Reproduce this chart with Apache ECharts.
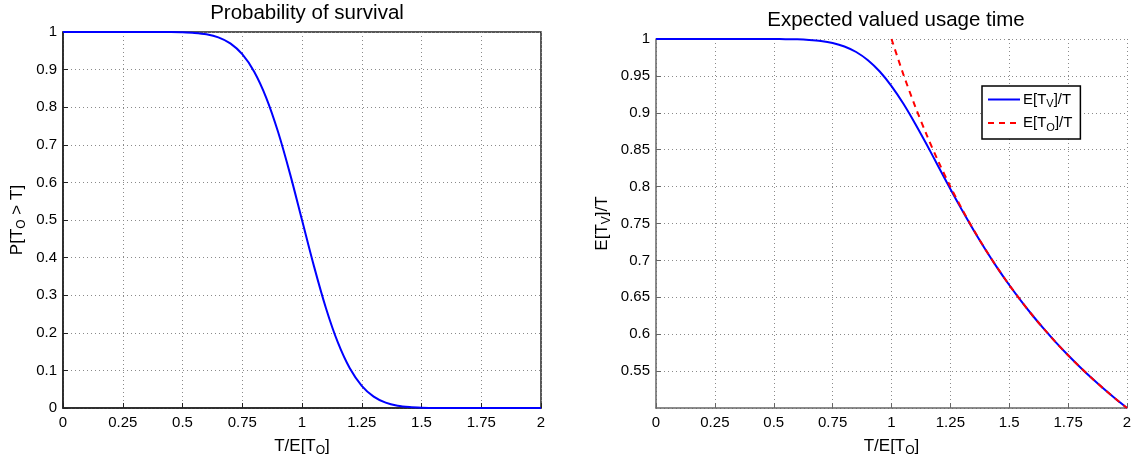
<!DOCTYPE html>
<html>
<head>
<meta charset="utf-8">
<script src="https://cdn.jsdelivr.net/npm/echarts@6/dist/echarts.min.js"></script>
<style>
html,body{margin:0;padding:0;background:#fff;}
#chart{width:1139px;height:455px;}
</style>
</head>
<body>
<div id="chart"></div>
<script>
// ---- data ----
const xValues = [0,0.05,0.1,0.15,0.2,0.25,0.3,0.35,0.4,0.45,0.5,0.55,0.6,0.65,0.7,0.75,0.8,0.85,0.9,0.95,
  1,1.05,1.1,1.15,1.2,1.25,1.3,1.35,1.4,1.45,1.5,1.55,1.6,1.65,1.7,1.75,1.8,1.85,1.9,1.95,2];
const survival = [1,1,1,1,1,1,1,1,0.9999,0.9997,0.9991,0.9975,0.9938,0.9856,0.9696,0.9409,0.8944,0.8257,0.734,0.6227,
  0.5,0.3773,0.266,0.1743,0.1056,0.0591,0.0304,0.0144,0.0062,0.0025,0.0009,0.0003,0.0001,0,0,0,0,0,0,0,0];
const usageV = [1,1,1,1,1,1,1,1,1,1,0.9999,0.9998,0.9995,0.9987,0.9973,0.9946,0.9899,0.9824,0.9712,0.9559,
  0.9362,0.9125,0.8855,0.8566,0.8266,0.7967,0.7678,0.7401,0.7141,0.6896,0.6667,0.6452,0.625,0.6061,0.5882,0.5714,0.5556,0.5405,0.5263,0.5128,0.5];
const xValuesO = [1,1.05,1.1,1.15,1.2,1.25,1.3,1.35,1.4,1.45,1.5,1.55,1.6,1.65,1.7,1.75,1.8,1.85,1.9,1.95,2];
const usageO = [1,0.9524,0.9091,0.8696,0.8333,0.8,0.7692,0.7407,0.7143,0.6897,0.6667,0.6452,0.625,0.6061,0.5882,0.5714,0.5556,0.5405,0.5263,0.5128,0.5];
const xTicks = [0,0.25,0.5,0.75,1,1.25,1.5,1.75,2];
const leftYTicks = [0,0.1,0.2,0.3,0.4,0.5,0.6,0.7,0.8,0.9,1];
const rightYTicks = [0.55,0.6,0.65,0.7,0.75,0.8,0.85,0.9,0.95,1];
const titles = ['Probability of survival','Expected valued usage time'];
const seriesNames = ['E[T_V]/T','E[T_O]/T'];

// ---- chart ----
const FONT = '"Liberation Sans", Arial, Helvetica, sans-serif';
const richName = {
  n: {fontSize: 17, fontFamily: FONT, color: '#000'},
  s: {fontSize: 12, fontFamily: FONT, color: '#000', padding: [10, 0, 0, 0]}
};
const richLegend = {
  n: {fontSize: 15, fontFamily: FONT, color: '#000'},
  s: {fontSize: 11, fontFamily: FONT, color: '#000', padding: [9, 0, 0, 0]}
};
function sub(base, s, rest) { return '{n|' + base + '}{s|' + s + '}{n|' + rest + '}'; }
const pairs = (xs, ys) => xs.map((x, i) => [x, ys[i]]);
const gridLine = () => ({show: true, lineStyle: {color: '#8a8a8a', type: [1, 3], width: 1}});
const labelStyle = {color: '#000', fontSize: 15, fontFamily: FONT};
const fmt = v => String(+v.toFixed(2));

const chart = echarts.init(document.getElementById('chart'), null, {renderer: 'canvas'});
chart.setOption({
  animation: false,
  backgroundColor: '#fff',
  title: [
    {text: titles[0], left: 302, top: -2, textAlign: 'center',
     textStyle: {fontSize: 20.5, fontWeight: 'normal', color: '#000', fontFamily: FONT}},
    {text: titles[1], left: 891, top: 5, textAlign: 'center',
     textStyle: {fontSize: 20.5, fontWeight: 'normal', color: '#000', fontFamily: FONT}}
  ],
  grid: [
    {left: 63, right: 598, top: 32, bottom: 47, outerBoundsMode: 'none', containLabel: false,
     show: true, borderColor: '#222', borderWidth: 1.5, backgroundColor: 'transparent'},
    {left: 656, right: 12, top: 39, bottom: 47, outerBoundsMode: 'none', containLabel: false}
  ],
  legend: {
    data: seriesNames,
    orient: 'vertical', left: 982, top: 86,
    itemWidth: 32, itemHeight: 12, itemGap: 6,
    padding: [6, 8, 6, 5],
    borderColor: '#000', borderWidth: 1.5, backgroundColor: '#fff',
    itemStyle: {opacity: 0},
    formatter: (name) => name === seriesNames[0] ? sub('E[T', 'V', ']/T') : sub('E[T', 'O', ']/T'),
    textStyle: {rich: richLegend, padding: [0, 0, 0, -2]}
  },
  xAxis: [0, 1].map(g => ({
    type: 'value', gridIndex: g, min: 0, max: 2, interval: 0.25,
    name: sub('T/E[T', 'O', ']'), nameLocation: 'middle', nameGap: 27,
    nameTextStyle: {rich: richName},
    axisLine: {show: true, onZero: false, lineStyle: {color: g === 0 ? '#222' : '#666', width: 1.5}},
    axisTick: {show: true, inside: true, length: 5, lineStyle: {color: g === 0 ? '#222' : '#666'}},
    axisLabel: Object.assign({margin: 7, formatter: fmt}, labelStyle),
    splitLine: gridLine()
  })),
  yAxis: [
    {type: 'value', gridIndex: 0, min: 0, max: 1, interval: 0.1,
     name: sub('P[T', 'O', ' > T]'), nameLocation: 'middle', nameGap: 35, nameRotate: 90,
     nameTextStyle: {rich: richName},
     axisLine: {show: true, lineStyle: {color: '#222', width: 1.5}},
     axisTick: {show: true, inside: true, length: 5, lineStyle: {color: '#222'}},
     axisLabel: Object.assign({margin: 6, formatter: fmt}, labelStyle),
     splitLine: gridLine()},
    {type: 'value', gridIndex: 1, min: 0.5, max: 1, interval: 0.05,
     name: sub('E[T', 'V', ']/T'), nameLocation: 'middle', nameGap: 43, nameRotate: 90,
     nameTextStyle: {rich: richName},
     axisLine: {show: true, lineStyle: {color: '#666', width: 1.5}},
     axisTick: {show: true, inside: true, length: 5, lineStyle: {color: '#666'}},
     axisLabel: Object.assign({margin: 6, showMinLabel: false, formatter: fmt}, labelStyle),
     splitLine: gridLine()}
  ],
  series: [
    {type: 'line', name: 'survival', xAxisIndex: 0, yAxisIndex: 0, data: pairs(xValues, survival),
     showSymbol: false, symbol: 'none', smooth: 0.3, lineStyle: {color: '#0000ff', width: 2}, itemStyle: {color: '#0000ff'}},
    {type: 'line', name: seriesNames[0], xAxisIndex: 1, yAxisIndex: 1, data: pairs(xValues, usageV),
     showSymbol: false, symbol: 'none', smooth: 0.3, lineStyle: {color: '#0000ff', width: 2}, itemStyle: {color: '#0000ff'}},
    {type: 'line', name: seriesNames[1], xAxisIndex: 1, yAxisIndex: 1, data: pairs(xValuesO, usageO),
     showSymbol: false, symbol: 'none', smooth: 0.3, lineStyle: {color: '#ff0000', width: 2, type: [6, 5]}, itemStyle: {color: '#ff0000'}}
  ]
});
</script>
</body>
</html>
